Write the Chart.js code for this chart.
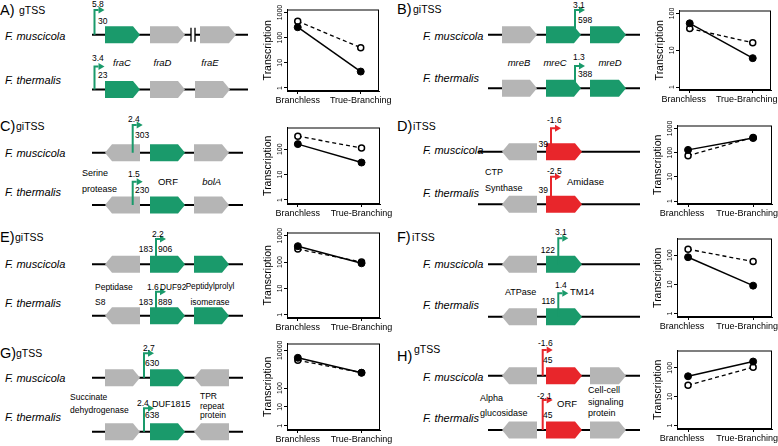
<!DOCTYPE html>
<html>
<head>
<meta charset="utf-8">
<script src="https://cdn.jsdelivr.net/npm/chart.js@4.4.1/dist/chart.umd.min.js"></script>
<style>
  body { margin: 0; background: #fff; }
  #page { position: relative; width: 778px; height: 446px; overflow: hidden; background: #fff; }
  #page svg, #page canvas { position: absolute; }
</style>
</head>
<body>
<div id="page">
  <svg id="genes" width="778" height="446" style="left:0;top:0"></svg>
</div>
<script>
// x categories shared by all eight small charts
const categories = ['Branchless', 'True-Branching'];

// transcription values, filled = F. muscicola, open = F. thermalis
const fraMus = [260, 4.5],   fraThe = [450, 40];
const mreMus = [54, 6.1],    mreThe = [39, 16];
const orfCMus = [160, 30],   orfCThe = [330, 112];
const amiMus = [130, 400],   amiThe = [75, 425];
const dufEMus = [400, 90],   dufEThe = [310, 100];
const tmMus = [85, 9],       tmThe = [160, 60];
const dufGMus = [4000, 650], dufGThe = [3000, 650];
const orfHMus = [51, 165],   orfHThe = [25, 105];

// labelled log ticks
const ticks1000 = [1, 10, 100, 1000];
const ticks100 = [1, 10, 100];
const ticksG = [1, 10, 100, 10000];

const GREEN = '#1a9a6b', RED = '#e8262b', GREY = '#b5b5b5';
const FONT = '"Liberation Sans", Arial, Helvetica, sans-serif';

// ---------- gene diagrams (svg) ----------
function geneShape(x1, x2, yc, dir, col) {
  const h = 8.5, t = 7;
  let pts;
  if (dir === 'R') pts = [[x1, yc - h], [x2 - t, yc - h], [x2, yc], [x2 - t, yc + h], [x1, yc + h]];
  else pts = [[x2, yc - h], [x1 + t, yc - h], [x1, yc], [x1 + t, yc + h], [x2, yc + h]];
  return `<polygon points="${pts.map(p => p.join(',')).join(' ')}" fill="${col}"/>`;
}
function tssArrow(x, y0, y1, col) {
  return `<polyline points="${x},${y0} ${x},${y1} ${x + 4},${y1}" fill="none" stroke="${col}" stroke-width="2"/>` +
    `<polygon points="${x + 4},${y1 - 3.5} ${x + 10},${y1} ${x + 4},${y1 + 3.5}" fill="${col}"/>`;
}
function txt(t, x, y, anchor, style, size) {
  const it = style === 'i' ? ' font-style="italic"' : '';
  return `<text x="${x}" y="${y}" text-anchor="${anchor || 'start'}" dominant-baseline="central"${it} font-size="${size || 8.5}">${t}</text>`;
}

const panels = [
  { letter: ['A)', 0, 10, 'gTSS', 19], spX: 5, spY: [36, 80],
    rows: [
      { y: 34.7, x1: 92, x2: 248, genes: [[105, 140, 'R', GREEN], [150, 185, 'R', GREY], [200, 236, 'R', GREY]], brk: 191, tss: [94.5, 10, GREEN] },
      { y: 89.5, x1: 92, x2: 248, genes: [[105, 140, 'R', GREEN], [150, 185, 'R', GREY], [195, 230, 'R', GREY]], tss: [94.5, 66.5, GREEN] }],
    labels: [['5.8', 92, 4], ['30', 98, 21], ['3.4', 92, 58], ['23', 98, 75],
      ['fraC', 122, 62, 'middle', 'i', 9.5], ['fraD', 162.5, 62, 'middle', 'i', 9.5], ['fraE', 210, 62, 'middle', 'i', 9.5]] },
  { letter: ['B)', 397, 8.5, 'giTSS', 413], spX: 423, spY: [36, 78],
    rows: [
      { y: 34.7, x1: 488, x2: 640, genes: [[502, 537, 'R', GREY], [546, 581, 'R', GREEN], [590, 626, 'R', GREEN]], tss: [575, 10, GREEN] },
      { y: 88.3, x1: 488, x2: 640, genes: [[502, 537, 'R', GREY], [546, 581, 'R', GREEN], [590, 626, 'R', GREEN]], tss: [575, 66, GREEN] }],
    labels: [['3.1', 573, 4.5], ['598', 578, 20], ['1.3', 573, 57], ['388', 578, 74],
      ['mreB', 519, 62, 'middle', 'i', 9.5], ['mreC', 555, 62, 'middle', 'i', 9.5], ['mreD', 610, 62, 'middle', 'i', 9.5]] },
  { letter: ['C)', 0, 126, 'giTSS', 16], spX: 5, spY: [152.7, 191.7],
    rows: [
      { y: 152.7, x1: 92, x2: 243, genes: [[105, 140, 'L', GREY], [150, 185, 'R', GREEN], [194, 229, 'R', GREY]], tss: [132.7, 125, GREEN] },
      { y: 205, x1: 92, x2: 243, genes: [[105, 140, 'L', GREY], [150, 185, 'R', GREEN], [194, 229, 'R', GREY]], tss: [132.7, 181.7, GREEN] }],
    labels: [['2.4', 128, 119], ['303', 135, 135], ['1.5', 128, 174], ['230', 135, 190],
      ['Serine', 82, 173, 'start', 'n', 9], ['protease', 82, 189, 'start', 'n', 9], ['ORF', 168, 181.7, 'middle', 'n', 9.5], ['bolA', 211.7, 181.7, 'middle', 'i', 9.5]] },
  { letter: ['D)', 397, 126, 'iTSS', 413], spX: 423, spY: [150, 193.3],
    rows: [
      { y: 151.7, x1: 478, x2: 640, genes: [[502, 537, 'L', GREY], [546, 582, 'R', RED]], tss: [551, 128.3, RED] },
      { y: 204.3, x1: 478, x2: 640, genes: [[502, 537, 'L', GREY], [546, 582, 'R', RED]], tss: [551, 176.7, RED] }],
    labels: [['-1.6', 547, 119.5], ['39', 548, 144, 'end'], ['-2.5', 547, 171], ['39', 548, 190, 'end'],
      ['CTP', 485, 171.7, 'start', 'n', 9], ['Synthase', 485, 188, 'start', 'n', 9], ['Amidase', 567, 181.7, 'start', 'n', 9.5]] },
  { letter: ['E)', 0, 237, 'giTSS', 15], spX: 5, spY: [264.3, 303.3],
    rows: [
      { y: 264.3, x1: 92, x2: 243, genes: [[105, 140, 'L', GREY], [150, 185, 'R', GREEN], [194, 229, 'R', GREEN]], tss: [156, 239, GREEN] },
      { y: 315.7, x1: 92, x2: 243, genes: [[105, 140, 'L', GREY], [150, 185, 'R', GREEN], [194, 229, 'R', GREEN]], tss: [156, 291.7, GREEN] }],
    labels: [['2.2', 152, 233.5], ['183', 153, 249, 'end'], ['906', 158, 249], ['1.6', 147, 286.7], ['DUF92', 160, 286.7, 'start', 'n', 8.3],
      ['183', 153, 301.7, 'end'], ['889', 158, 301.7], ['Peptidase', 95, 286.7], ['S8', 95, 301.7],
      ['Peptidylprolyl', 210, 286.7, 'middle', 'n', 8.2], ['isomerase', 210, 301.7, 'middle']] },
  { letter: ['F)', 397, 237, 'iTSS', 412], spX: 423, spY: [264.3, 305],
    rows: [
      { y: 264.3, x1: 488, x2: 640, genes: [[502, 537, 'L', GREY], [546, 582, 'R', GREEN]], tss: [558.3, 238.3, GREEN] },
      { y: 316.7, x1: 488, x2: 640, genes: [[502, 537, 'L', GREY], [546, 582, 'R', GREEN]], tss: [558.3, 293.3, GREEN] }],
    labels: [['3.1', 555, 231.5], ['122', 555, 250, 'end'], ['1.4', 555, 285], ['118', 555, 301, 'end'],
      ['TM14', 570, 291.7, 'start', 'n', 9.5], ['ATPase', 505, 292, 'start', 'n', 9]] },
  { letter: ['G)', 0, 353, 'gTSS', 16], spX: 5, spY: [377.7, 416.7],
    rows: [
      { y: 377.7, x1: 92, x2: 243, genes: [[105, 140, 'R', GREY], [150, 185, 'R', GREEN], [194, 229, 'L', GREY]], tss: [144, 353.3, GREEN] },
      { y: 431.7, x1: 92, x2: 243, genes: [[105, 140, 'R', GREY], [150, 185, 'R', GREEN], [194, 229, 'L', GREY]], tss: [144, 408.3, GREEN] }],
    labels: [['2.7', 143, 347.5], ['630', 145, 363.3], ['2.4', 137, 403], ['638', 145, 415], ['DUF1815', 152, 404, 'start', 'n', 9],
      ['Succinate', 70, 396.7], ['dehydrogenase', 70, 410], ['TPR', 200, 396], ['repeat', 200, 405.5], ['protein', 200, 415]] },
  { letter: ['H)', 397, 356, 'gTSS', 414, 349], spX: 423, spY: [376.7, 418.3],
    rows: [
      { y: 375.7, x1: 488, x2: 640, genes: [[502, 537, 'L', GREY], [546, 582, 'R', RED], [590, 626, 'R', GREY]], tss: [542.7, 350, RED] },
      { y: 430, x1: 488, x2: 640, genes: [[502, 537, 'L', GREY], [546, 582, 'R', RED], [590, 626, 'R', GREY]], tss: [542.7, 400, RED] }],
    labels: [['-1.6', 538, 343], ['45', 543, 360], ['-2.1', 537, 396], ['45', 543, 415], ['ORF', 557, 403.3, 'start', 'n', 9.5],
      ['Alpha', 480, 398.3, 'start', 'n', 9], ['glucosidase', 480, 413.3, 'start', 'n', 9], ['Cell-cell', 588, 390, 'start', 'n', 9],
      ['signaling', 588, 401.7, 'start', 'n', 9], ['protein', 588, 413.3, 'start', 'n', 9]] }
];

let svg = `<g font-family='${FONT}' fill="#000">`;
panels.forEach(p => {
  const L = p.letter;
  svg += txt(L[0], L[1], L[2], 'start', 'n', 14.5);
  svg += txt(L[3], L[4], L[5] || L[2], 'start', 'n', 10.5);
  svg += txt('F. muscicola', p.spX, p.spY[0], 'start', 'i', 11);
  svg += txt('F. thermalis', p.spX, p.spY[1], 'start', 'i', 11);
  p.rows.forEach(r => {
    svg += `<line x1="${r.x1}" y1="${r.y}" x2="${r.x2}" y2="${r.y}" stroke="#000" stroke-width="2"/>`;
    r.genes.forEach(g => { svg += geneShape(g[0], g[1], r.y, g[2], g[3]); });
    if (r.brk) {
      svg += `<rect x="${r.brk}" y="${r.y - 3}" width="4" height="6" fill="#fff"/>`;
      svg += `<line x1="${r.brk}" y1="${r.y - 7}" x2="${r.brk}" y2="${r.y + 7}" stroke="#000" stroke-width="1.3"/>`;
      svg += `<line x1="${r.brk + 4}" y1="${r.y - 7}" x2="${r.brk + 4}" y2="${r.y + 7}" stroke="#000" stroke-width="1.3"/>`;
    }
    svg += tssArrow(r.tss[0], r.y, r.tss[1], r.tss[2]);
  });
  p.labels.forEach(l => { svg += txt(l[0], l[1], l[2], l[3], l[4], l[5]); });
});
svg += '</g>';
document.getElementById('genes').innerHTML = svg;

// ---------- small log charts ----------
const rFrame = {
  id: 'rFrame',
  afterDraw(chart, args, opts) {
    const { ctx, chartArea: a } = chart;
    const ys = chart.scales.y;
    ctx.save();
    ctx.strokeStyle = '#000';
    ctx.lineWidth = 1;
    ctx.strokeRect(a.left + 0.5, a.top + 0.5, a.right - a.left - 1, a.bottom - a.top - 1);
    ctx.fillStyle = '#000';
    ctx.textAlign = 'center';
    ctx.textBaseline = 'middle';
    ctx.font = '7px ' + FONT;
    opts.labels.forEach(v => {
      ctx.save();
      ctx.translate(a.left - 7, ys.getPixelForValue(v));
      ctx.rotate(-Math.PI / 2);
      ctx.fillText(String(v), 0, 0);
      ctx.restore();
    });
    ctx.font = '10.5px ' + FONT;
    ctx.translate(a.left - 19, (a.top + a.bottom) / 2);
    ctx.rotate(-Math.PI / 2);
    ctx.fillText('Transcription', 0, 0);
    ctx.restore();
  }
};

function makeChart(box, logRange, mus, the, tickVals) {
  const padL = 34, padT = 5, padR = 30, padB = 18;
  const cv = document.createElement('canvas');
  const w = box[2] - box[0] + padL + padR, h = box[3] - box[1] + padT + padB;
  cv.width = w; cv.height = h;
  cv.style.left = (box[0] - padL) + 'px';
  cv.style.top = (box[1] - padT) + 'px';
  cv.style.width = w + 'px'; cv.style.height = h + 'px';
  document.getElementById('page').appendChild(cv);
  const axisGrid = { display: true, drawOnChartArea: false, drawTicks: true, tickLength: 3, color: '#000', lineWidth: 1 };
  // right column labels sit a little left so the last one stays inside the page
  const shift = box[0] > 600 ? -6 : 0;
  new Chart(cv, {
    type: 'line',
    data: {
      datasets: [
        { data: categories.map((c, i) => ({ x: i, y: mus[i] })), borderColor: '#000', borderWidth: 1.5,
          pointRadius: 3.5, pointBackgroundColor: '#000', pointBorderColor: '#000', pointBorderWidth: 1 },
        { data: categories.map((c, i) => ({ x: i, y: the[i] })), borderColor: '#000', borderWidth: 1.3, borderDash: [4, 3],
          pointRadius: 3, pointBackgroundColor: '#fff', pointBorderColor: '#000', pointBorderWidth: 1.5 }
      ]
    },
    options: {
      responsive: false, animation: false, devicePixelRatio: 1,
      layout: { padding: { left: 0, top: padT, right: padR, bottom: 0 } },
      plugins: { legend: { display: false }, tooltip: { enabled: false }, rFrame: { labels: tickVals } },
      scales: {
        x: {
          type: 'linear', min: -0.17, max: 1.29,
          afterBuildTicks: s => { s.ticks = categories.map((c, i) => ({ value: i })); },
          afterFit: s => { s.height = padB; s.paddingLeft = 0; s.paddingRight = 0; },
          ticks: { callback: v => categories[v], color: '#000', font: { family: FONT, size: 9 }, padding: 1, maxRotation: 0, labelOffset: shift },
          grid: axisGrid, border: { display: true, color: '#000', width: 1 }
        },
        y: {
          type: 'logarithmic', min: Math.pow(10, logRange[0]), max: Math.pow(10, logRange[1]),
          afterBuildTicks: s => { s.ticks = tickVals.map(v => ({ value: v })); },
          afterFit: s => { s.width = padL; },
          ticks: { display: false },
          grid: axisGrid, border: { display: true, color: '#000', width: 1 }
        }
      }
    },
    plugins: [rFrame]
  });
}

makeChart([287, 9, 379, 91], [-0.12, 3.12], fraMus, fraThe, ticks1000);
makeChart([679, 10, 771, 90], [-0.08, 2.08], mreMus, mreThe, ticks100);
makeChart([287, 127, 380, 204], [-0.16, 2.86], orfCMus, orfCThe, ticks100);
makeChart([677, 125, 772, 204], [-0.12, 3.12], amiMus, amiThe, ticks1000);
makeChart([287, 232, 380, 318], [-0.12, 3.12], dufEMus, dufEThe, ticks1000);
makeChart([677, 238, 772, 317], [-0.12, 2.57], tmMus, tmThe, ticks100);
makeChart([287, 343, 380, 430], [-0.2, 4.36], dufGMus, dufGThe, ticksG);
makeChart([677, 350, 772, 429], [-0.12, 2.6], orfHMus, orfHThe, ticks100);
</script>
</body>
</html>
